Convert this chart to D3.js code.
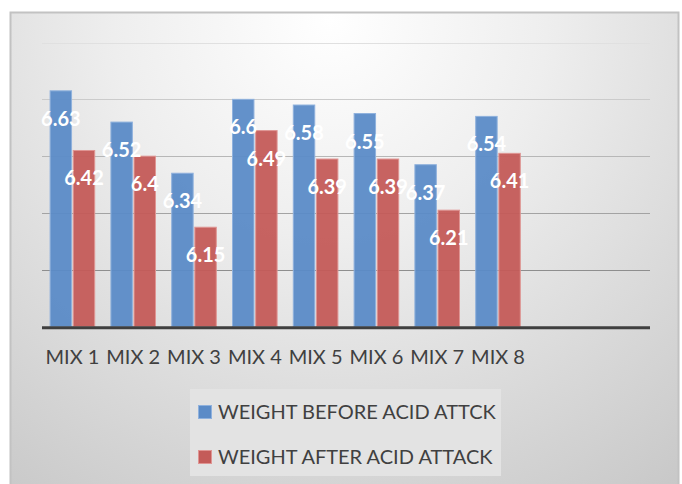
<!DOCTYPE html>
<html>
<head>
<meta charset="utf-8">
<script src="https://cdn.jsdelivr.net/npm/d3@7/dist/d3.min.js"></script>
<style>
  html, body { margin: 0; padding: 0; background: #ffffff; }
  svg { display: block; }
</style>
</head>
<body>
<svg id="chart" width="682" height="484"></svg>
<script>
// Sample weights before and after the acid attack test
const categories = ["MIX 1", "MIX 2", "MIX 3", "MIX 4", "MIX 5", "MIX 6", "MIX 7", "MIX 8"];
const weightBefore = [6.63, 6.52, 6.34, 6.6, 6.58, 6.55, 6.37, 6.54];
const weightAfter = [6.42, 6.4, 6.15, 6.49, 6.39, 6.39, 6.21, 6.41];
const seriesNames = ["WEIGHT BEFORE ACID ATTCK", "WEIGHT AFTER ACID ATTACK"];
const gridTicks = [6.0, 6.2, 6.4, 6.6, 6.8];
const slotCount = 10; // category axis keeps two empty slots on the right

const svg = d3.select("#chart");
const W = 682, H = 484;
const font = "Lato, 'Open Sans', sans-serif";

// Chart area background
const defs = svg.append("defs");
const grad = defs.append("radialGradient")
  .attr("id", "bg")
  .attr("gradientUnits", "userSpaceOnUse")
  .attr("cx", 330).attr("cy", 20).attr("r", 620);
grad.append("stop").attr("offset", "0%").attr("stop-color", "#ffffff");
grad.append("stop").attr("offset", "35%").attr("stop-color", "#eeeeee");
grad.append("stop").attr("offset", "100%").attr("stop-color", "#c4c4c4");

svg.append("rect")
  .attr("x", 10.5).attr("y", 12.5)
  .attr("width", 668).attr("height", 480)
  .attr("fill", "url(#bg)")
  .attr("stroke", "#c2c2c2")
  .attr("stroke-width", 2);

const plot = { left: 42, right: 650, top: 42.5, bottom: 326.7 };

const x = d3.scaleBand()
  .domain(d3.range(slotCount))
  .range([plot.left, plot.right])
  .paddingInner(0.25)
  .paddingOuter(0.125);

const xSub = d3.scaleBand()
  .domain([0, 1])
  .range([0, x.bandwidth()])
  .paddingInner(0.03);

const y = d3.scaleLinear()
  .domain([5.8, 6.8])
  .range([plot.bottom, plot.top]);

// Gridlines, darkening towards the axis
const gridColor = d3.scaleLinear()
  .domain([6.0, 6.8])
  .range(["#8e8e8e", "#e0e0e0"]);

svg.append("g")
  .selectAll("line")
  .data(gridTicks)
  .join("line")
  .attr("x1", plot.left).attr("x2", plot.right)
  .attr("y1", d => Math.round(y(d)) + 0.5)
  .attr("y2", d => Math.round(y(d)) + 0.5)
  .attr("stroke", d => gridColor(d))
  .attr("stroke-width", 1.2);

// Bars
const series = [
  { values: weightBefore, fill: "#5b8bc7", stroke: "#8fb1dd" },
  { values: weightAfter, fill: "#c45b59", stroke: "#df9593" }
];

const groups = svg.append("g")
  .selectAll("g")
  .data(categories)
  .join("g")
  .attr("transform", (d, i) => `translate(${x(i)},0)`);

series.forEach((s, si) => {
  groups.append("rect")
    .attr("x", xSub(si) + 0.5)
    .attr("y", (d, i) => y(s.values[i]))
    .attr("width", xSub.bandwidth() - 1)
    .attr("height", (d, i) => y(5.8) - y(s.values[i]))
    .attr("fill", s.fill)
    .attr("fill-opacity", 0.95)
    .attr("stroke", s.stroke)
    .attr("stroke-width", 1);
});

// Axis line
svg.append("line")
  .attr("x1", plot.left).attr("x2", plot.right)
  .attr("y1", plot.bottom + 1).attr("y2", plot.bottom + 1)
  .attr("stroke", "#3f3f3f")
  .attr("stroke-width", 3);

// Value labels
series.forEach((s, si) => {
  groups.append("text")
    .attr("x", xSub(si) + xSub.bandwidth() / 2)
    .attr("y", (d, i) => y(s.values[i]) + 35)
    .attr("text-anchor", "middle")
    .attr("font-family", font)
    .attr("font-weight", "bold")
    .attr("font-size", 20)
    .attr("fill", "#ffffff")
    .text((d, i) => s.values[i]);
});

// Category labels
groups.append("text")
  .attr("x", x.bandwidth() / 2)
  .attr("y", 364)
  .attr("text-anchor", "middle")
  .attr("font-family", font)
  .attr("font-size", 20)
  .attr("fill", "#404040")
  .text(d => d);

// Legend
const legend = svg.append("g");
legend.append("rect")
  .attr("x", 190).attr("y", 389)
  .attr("width", 311).attr("height", 87)
  .attr("fill", "#e3e3e3");

const items = legend.selectAll("g")
  .data(seriesNames)
  .join("g")
  .attr("transform", (d, i) => `translate(198,${405 + i * 45})`);

items.append("rect")
  .attr("x", 0.5).attr("y", 0.5)
  .attr("width", 13).attr("height", 13)
  .attr("fill", (d, i) => series[i].fill)
  .attr("stroke", (d, i) => series[i].stroke);

items.append("text")
  .attr("x", 20)
  .attr("y", 14)
  .attr("font-family", font)
  .attr("font-size", 20)
  .attr("fill", "#404040")
  .text(d => d);
</script>
</body>
</html>
